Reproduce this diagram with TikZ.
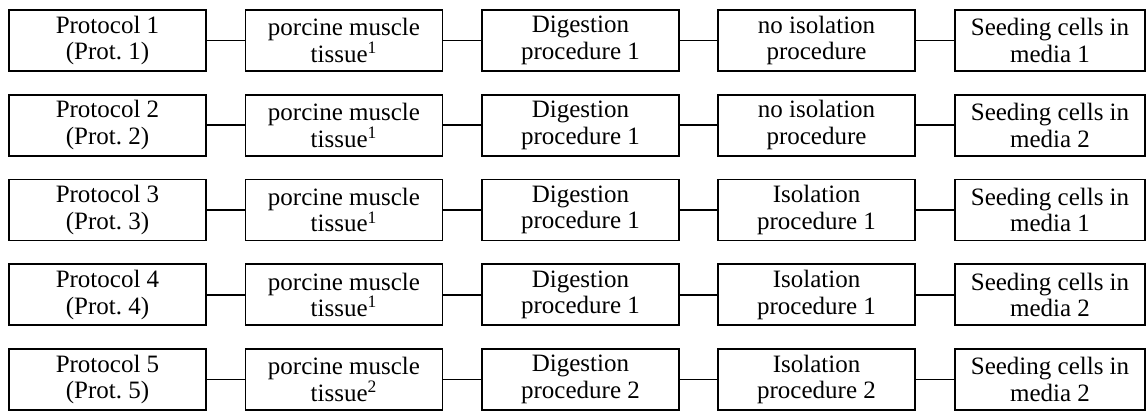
\documentclass[tikz,border=0pt]{standalone}
\usepackage{fontspec}
\setmainfont{Liberation Serif}
\usetikzlibrary{positioning}

\begin{document}
\begin{tikzpicture}[x=0.5pt,y=-0.5pt,
    box/.style={draw,line width=0.9pt,minimum width=98.5pt,minimum height=30.5pt,
      inner sep=0pt,align=center,font=\fontsize{12.5}{13.3}\selectfont},
    link/.style={line width=0.9pt}]
  % Frame of the picture
  \useasboundingbox (0,0) rectangle (1147,412);

  % One row per protocol
  \foreach \r/\tis/\dig/\iso/\med in {
      1/1/1/{no isolation\\procedure}/1,
      2/1/1/{no isolation\\procedure}/2,
      3/1/1/{Isolation\\procedure 1}/1,
      4/1/1/{Isolation\\procedure 1}/2,
      5/2/2/{Isolation\\procedure 2}/2}{
    \pgfmathsetmacro{\yy}{40.5+84.75*(\r-1)}
    \node[box] (prot\r) at (107.5,\yy) {Protocol \r\\(Prot.~\r)};
    \node[box] (tissue\r) at (344,\yy) {porcine muscle\\tissue\textsuperscript{\tis}};
    \node[box] (dig\r) at (580.5,\yy) {Digestion\\procedure \dig};
    \node[box] (iso\r) at (816.5,\yy) {\iso};
    \node[box,minimum width=95pt] (seed\r) at (1050,\yy) {Seeding cells in\\media \med};

    % Links
    \draw[link] (prot\r) -- (tissue\r);
    \draw[link] (tissue\r) -- (dig\r);
    \draw[link] (dig\r) -- (iso\r);
    \draw[link] (iso\r) -- (seed\r);
  }
\end{tikzpicture}
\end{document}
